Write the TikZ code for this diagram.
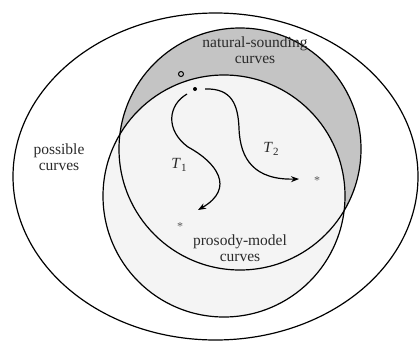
\documentclass[tikz,border=0pt]{standalone}
\usepackage{fontspec}
\setmainfont{Liberation Serif}
\usetikzlibrary{arrows.meta}
\definecolor{crescent}{HTML}{C4C4C4}
\definecolor{inner}{HTML}{F4F4F4}
\definecolor{txt}{HTML}{2A2A2A}
\newcommand{\tlab}[1]{\textit{T}\raisebox{-0.35ex}{\fontsize{11}{11}\selectfont #1}}
\begin{document}
\begin{tikzpicture}[x=1pt,y=-1pt,
  outline/.style={draw=black,line width=1.2pt},
  lab/.style={text=txt,align=center,font=\fontsize{15.5}{16}\selectfont,inner sep=0pt},
  traj/.style={line width=1.2pt,-{Stealth[length=8pt,width=6pt]}},
  starpt/.style={text=gray!70!black,font=\fontsize{12}{12}\selectfont,inner sep=0pt}]
\useasboundingbox (0,0) rectangle (419,340);
\clip (0,0) rectangle (419,340);
% fills
\fill[crescent] (240,149) circle (121);
\fill[inner] (224,196) circle (121);
% outlines
\draw[outline] (240,149) circle (121);
\draw[outline] (224,196) circle (121);
\draw[outline] (215.5,176.5) ellipse (202.5 and 163.5);
% labels
\node[lab] (nat) at (255,50) {natural-sounding\\curves};
\node[lab] (pos) at (59,157) {possible\\curves};
\node[lab] (pro) at (240,248) {prosody-model\\curves};
\node[lab] (t1) at (179,165) {\tlab{1}};
\node[lab] (t2) at (271,149) {\tlab{2}};
% points
\node[draw=black,line width=1pt,circle,minimum size=5pt,inner sep=0pt] (open) at (181,74) {};
\node[fill=black,circle,minimum size=4pt,inner sep=0pt] (start) at (195,89) {};
\node[starpt] (s1) at (180,227) {*};
\node[starpt] (s2) at (317,181) {*};
\coordinate (e1) at (198,210);
\coordinate (e2) at (299,179);
% trajectories
\draw[traj] ([shift={(-8,5)}]start.center) .. controls (168,105) and (165,130) .. (188,147)
   .. controls (216,162) and (236,188) .. (e1);
\draw[traj] ([shift={(10,0)}]start.center) .. controls (232,88) and (238,105) .. (239,128)
   .. controls (240,160) and (255,180) .. (e2);
\end{tikzpicture}
\end{document}
